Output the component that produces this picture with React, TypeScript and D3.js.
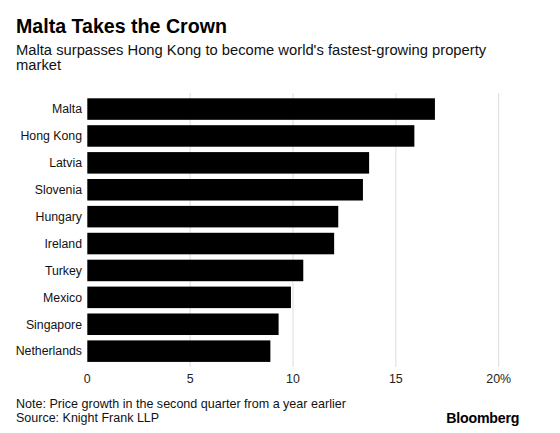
import React from "react";
import * as d3 from "d3";

const countries = ["Malta", "Hong Kong", "Latvia", "Slovenia", "Hungary", "Ireland", "Turkey", "Mexico", "Singapore", "Netherlands"];
const growth = [16.9, 15.9, 13.7, 13.4, 12.2, 12.0, 10.5, 9.9, 9.3, 8.9];
const ticks = [0, 5, 10, 15, 20];
const tickLabels = ["0", "5", "10", "15", "20%"];

const title = "Malta Takes the Crown";
const subtitleLines = ["Malta surpasses Hong Kong to become world's fastest-growing property", "market"];
const note = "Note: Price growth in the second quarter from a year earlier";
const source = "Source: Knight Frank LLP";

const W = 560;
const H = 433;
const FONT = "'Liberation Sans', Arial, Helvetica, sans-serif";

export default function App() {
  const x = d3.scaleLinear().domain([0, 20]).range([87.3, 498.7]);
  const y = d3.scaleBand<string>().domain(countries).range([95.6, 364.6]).paddingInner(0.2).paddingOuter(0.1);

  return (
    <svg width={W} height={H} style={{ position: "absolute", left: 0, top: 0, background: "#fff" }} fontFamily={FONT}>
      <rect width={W} height={H} fill="#fff" />
      <text x={16} y={32.5} fontSize={19.6} fontWeight="bold" fill="#000">{title}</text>
      {subtitleLines.map((l, i) => (
        <text key={i} x={16} y={55 + i * 14.5} fontSize={14.75} fill="#111">{l}</text>
      ))}
      {ticks.filter((t) => t !== 0).map((t) => (
        <line key={t} x1={x(t)} x2={x(t)} y1={93} y2={367} stroke="#dcdcdc" strokeWidth={1} />
      ))}
      {countries.map((c, i) => (
        <g key={c}>
          <rect x={x(0)} y={y(c)} width={x(growth[i]) - x(0)} height={y.bandwidth()} fill="#000" />
          <text x={82} y={(y(c) as number) + y.bandwidth() / 2} dy="0.35em" textAnchor="end" fontSize={12.3} fill="#111">{c}</text>
        </g>
      ))}
      {ticks.map((t, i) => (
        <text key={t} x={x(t)} y={383.3} textAnchor="middle" fontSize={12.4} fill="#222">{tickLabels[i]}</text>
      ))}
      <text x={16} y={407.5} fontSize={12.55} fill="#111">{note}</text>
      <text x={16} y={421.7} fontSize={12.5} fill="#111">{source}</text>
      <text x={519.3} y={422.7} textAnchor="end" fontSize={14.2} fontWeight="bold" fill="#000" letterSpacing={-0.2}>Bloomberg</text>
    </svg>
  );
}
